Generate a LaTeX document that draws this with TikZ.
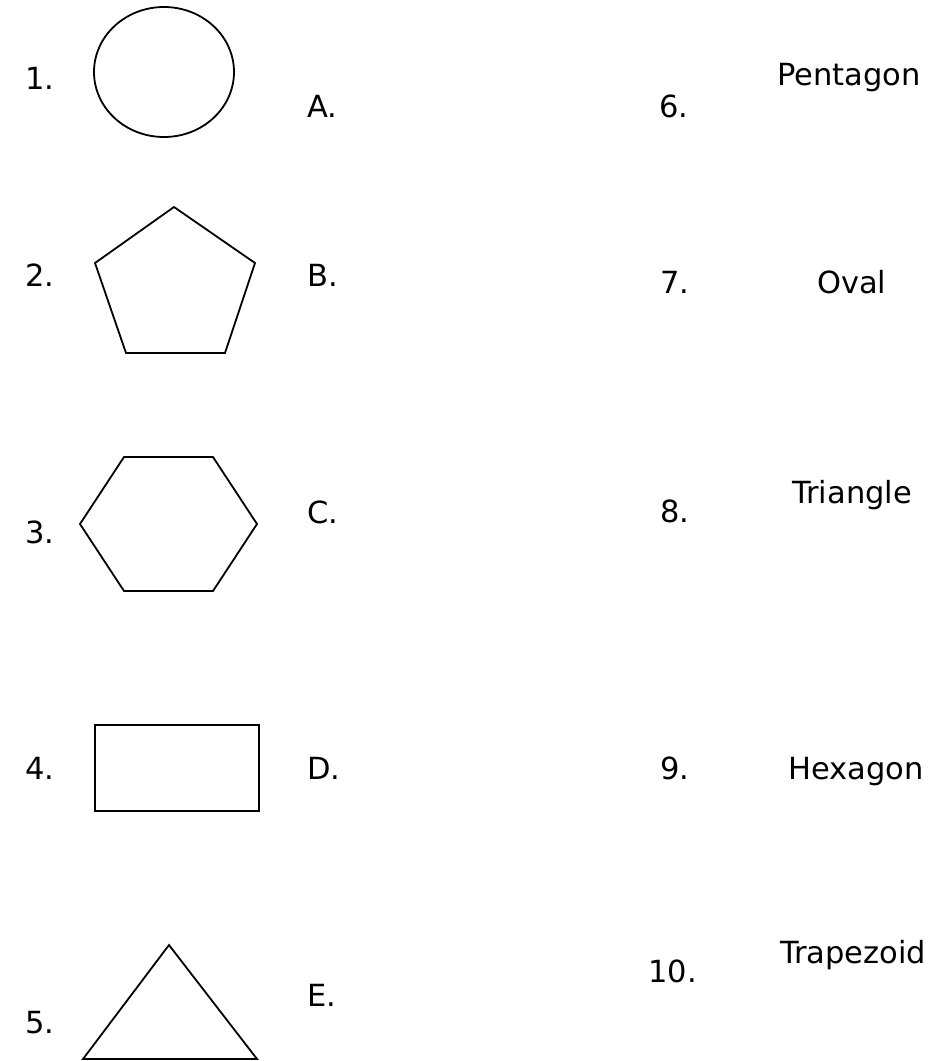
\documentclass[tikz,border=0pt]{standalone}
\usepackage{fontspec}
\setmainfont{DejaVu Sans}
\usetikzlibrary{positioning}

\begin{document}
\begin{tikzpicture}[
    x=1pt, y=-1pt,
    font=\fontsize{30.5}{36}\selectfont,
    lbl/.style={anchor=base west, inner sep=0pt},
    fig/.style={draw=black, line width=1.8pt, line join=miter}
  ]
  \useasboundingbox (0,0) rectangle (931,1061);

  % shapes on the left
  \draw[fig] (164,72) ellipse [x radius=70, y radius=65];
  \draw[fig] (174,207) -- (255,263) -- (225,353) -- (126,353) -- (95,263) -- cycle;
  \draw[fig] (124,457) -- (213,457) -- (257,524) -- (213,591) -- (124,591) -- (80,524) -- cycle;
  \draw[fig] (95,725) rectangle (259,811);
  \draw[fig] (169,945) -- (257,1059) -- (83,1059) -- cycle;

  % numbers of the shapes
  \node[lbl] (n1) at (25,89) {1.};
  \node[lbl] (n2) at (25,286) {2.};
  \node[lbl] (n3) at (25,543) {3.};
  \node[lbl] (n4) at (25,779) {4.};
  \node[lbl] (n5) at (25,1033) {5.};

  % letters
  \node[lbl] (la) at (307,117) {A.};
  \node[lbl] (lb) at (307,286) {B.};
  \node[lbl] (lc) at (307,523) {C.};
  \node[lbl] (ld) at (307,779) {D.};
  \node[lbl] (le) at (307,1006) {E.};

  % names on the right
  \node[lbl] (n6) at (659,117) {6.};
  \node[lbl] (n7) at (660,293) {7.};
  \node[lbl] (n8) at (660,522) {8.};
  \node[lbl] (n9) at (660,779) {9.};
  \node[lbl] (n10) at (648,982) {10.};

  \node[lbl] (pent) at (777,85) {Pentagon};
  \node[lbl] (oval) at (817,293) {Oval};
  \node[lbl] (tri) at (792,503) {Triangle};
  \node[lbl] (hex) at (788,779) {Hexagon};
  \node[lbl] (trap) at (780,963) {Trapezoid};
\end{tikzpicture}
\end{document}
